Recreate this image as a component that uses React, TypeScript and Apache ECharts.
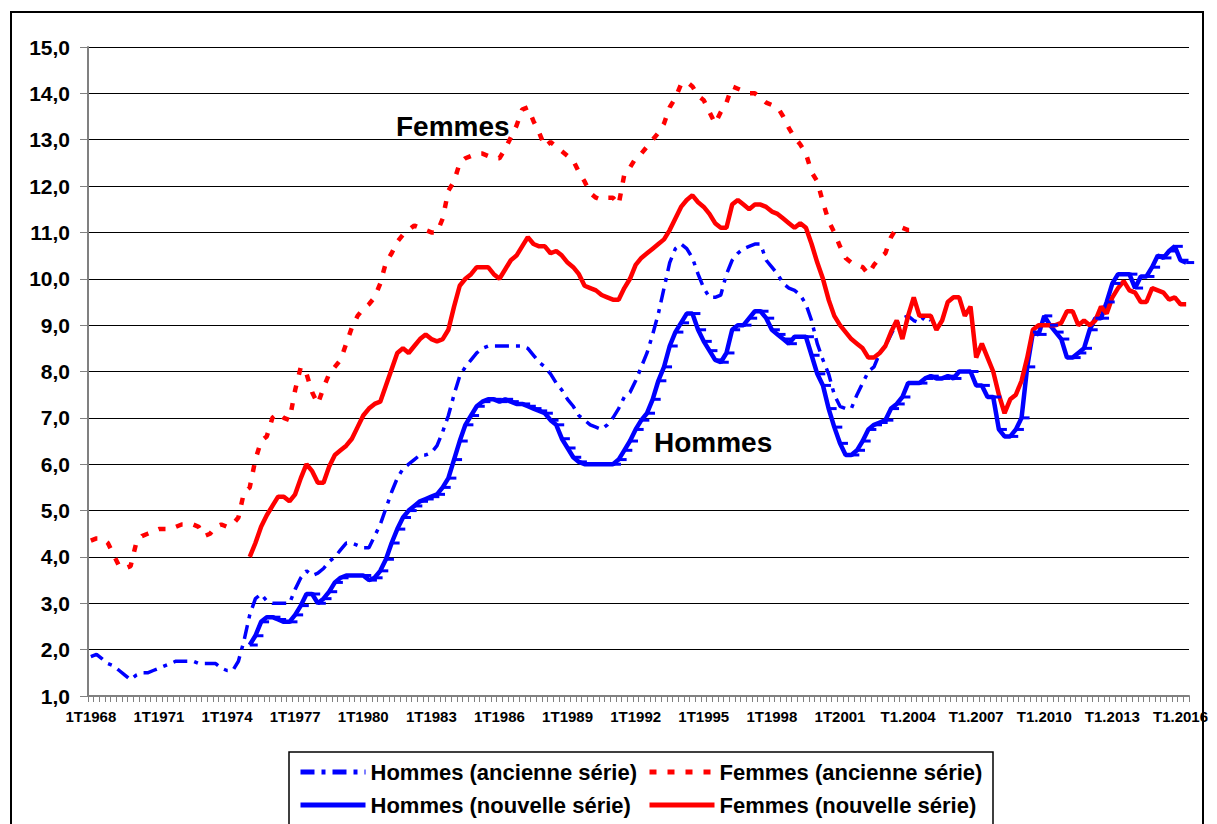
import React, { useEffect, useRef } from 'react';
import * as echarts from 'echarts';

const FONT = '"Liberation Sans", Arial, sans-serif';

// Quarterly axis: 1968 Q1 .. 2016 Q2
const FIRST_YEAR = 1968;
const LAST_YEAR = 2016;
const LAST_QUARTER = 2;
const NEW_SERIES_START_INDEX = 28; // 1975 Q1

const H_ANC = 'Hommes (ancienne série)';
const F_ANC = 'Femmes (ancienne série)';
const H_NOU = 'Hommes (nouvelle série)';
const F_NOU = 'Femmes (nouvelle série)';

// Hommes, ancienne série (from 1968 Q1)
const hommesAncienne = [
  1.85, 1.9, 1.8, 1.7, 1.65, 1.55, 1.45, 1.35, 1.45, 1.5,
  1.5, 1.55, 1.6, 1.65, 1.7, 1.75, 1.75, 1.75, 1.75, 1.7,
  1.7, 1.7, 1.7, 1.6, 1.55, 1.55, 1.75, 2.2, 2.75, 3.1,
  3.2, 3.05, 3.0, 3.0, 3.0, 3.0, 3.3, 3.55, 3.7, 3.6,
  3.65, 3.75, 3.9, 4.0, 4.15, 4.3, 4.3, 4.25, 4.2, 4.2,
  4.45, 4.7, 5.05, 5.4, 5.7, 5.9, 6.0, 6.1, 6.2, 6.2,
  6.25, 6.4, 6.7, 7.05, 7.5, 7.9, 8.1, 8.25, 8.4, 8.5,
  8.55, 8.55, 8.55, 8.55, 8.55, 8.55, 8.55, 8.5, 8.35, 8.2,
  8.1, 7.95, 7.75, 7.6, 7.4, 7.25, 7.05, 6.95, 6.85, 6.8,
  6.75, 6.85, 7.0, 7.2, 7.45, 7.55, 7.8, 8.1, 8.4, 8.8,
  9.25, 9.8, 10.35, 10.65, 10.75, 10.65, 10.45, 10.1, 9.8, 9.6,
  9.6, 9.65, 10.1, 10.4, 10.55, 10.65, 10.7, 10.75, 10.75, 10.4,
  10.25, 10.1, 9.9, 9.8, 9.75, 9.65, 9.45, 9.1, 8.6, 8.25,
  7.95, 7.5, 7.25, 7.2, 7.2, 7.5, 7.75, 8.0, 8.1, 8.4,
  8.55, 8.8, 9.05, 9.15, 9.2, 9.1, 9.05, 9.2, 9.1,
];

// Femmes, ancienne série (from 1968 Q1)
const femmesAncienne = [
  4.35, 4.4, 4.4, 4.3, 4.05, 3.8, 3.75, 3.8, 4.3, 4.45,
  4.5, 4.55, 4.6, 4.6, 4.6, 4.65, 4.7, 4.7, 4.7, 4.65,
  4.45, 4.5, 4.65, 4.7, 4.65, 4.7, 4.85, 5.4, 5.5, 6.1,
  6.5, 6.6, 7.0, 7.1, 7.0, 6.95, 7.6, 8.1, 7.95, 7.55,
  7.3, 7.65, 7.95, 8.1, 8.25, 8.6, 8.95, 9.2, 9.35, 9.45,
  9.6, 9.9, 10.35, 10.55, 10.8, 10.95, 11.05, 11.15, 11.1, 11.05,
  11.0, 11.0, 11.3, 11.9, 12.1, 12.5, 12.6, 12.65, 12.7, 12.7,
  12.65, 12.6, 12.6, 12.8, 13.05, 13.3, 13.65, 13.7, 13.4, 13.15,
  12.85, 12.95, 12.85, 12.75, 12.65, 12.55, 12.3, 12.1, 11.85, 11.75,
  11.7, 11.75, 11.75, 11.6, 12.25, 12.4, 12.6, 12.7, 12.85, 13.0,
  13.15, 13.35, 13.7, 13.9, 14.2, 14.25, 14.15, 13.95, 13.85, 13.6,
  13.35, 13.6, 13.8, 14.15, 14.1, 14.05, 14.0, 14.0, 13.9, 13.8,
  13.75, 13.7, 13.5, 13.25, 13.05, 12.9, 12.7, 12.3, 12.1, 11.65,
  11.25, 11.0, 10.7, 10.45, 10.35, 10.3, 10.25, 10.1, 10.3, 10.45,
  10.55, 10.9, 11.1, 11.1, 11.05, 11.05, 11.0,
];

// Hommes, nouvelle série (from 1975 Q1)
const hommesNouvelle = [
  2.1, 2.3,
  2.6, 2.7, 2.7, 2.65, 2.6, 2.6, 2.75, 2.95, 3.2, 3.2,
  3.0, 3.1, 3.25, 3.45, 3.55, 3.6, 3.6, 3.6, 3.6, 3.5,
  3.55, 3.7, 3.95, 4.3, 4.6, 4.85, 5.0, 5.1, 5.2, 5.25,
  5.3, 5.35, 5.5, 5.7, 6.1, 6.5, 6.85, 7.05, 7.25, 7.35,
  7.4, 7.4, 7.35, 7.4, 7.35, 7.3, 7.3, 7.25, 7.2, 7.15,
  7.1, 6.95, 6.85, 6.55, 6.35, 6.15, 6.05, 6.0, 6.0, 6.0,
  6.0, 6.0, 6.0, 6.1, 6.3, 6.5, 6.75, 6.95, 7.1, 7.4,
  7.8, 8.1, 8.55, 8.85, 9.05, 9.25, 9.25, 8.9, 8.65, 8.45,
  8.25, 8.2, 8.4, 8.9, 9.0, 9.0, 9.15, 9.3, 9.3, 9.15,
  8.9, 8.8, 8.7, 8.6, 8.75, 8.75, 8.75, 8.35, 7.95, 7.7,
  7.2, 6.8, 6.45, 6.2, 6.2, 6.3, 6.5, 6.75, 6.85, 6.9,
  6.95, 7.2, 7.3, 7.45, 7.75, 7.75, 7.75, 7.85, 7.9, 7.85,
  7.85, 7.9, 7.85, 8.0, 8.0, 8.0, 7.7, 7.7, 7.45, 7.45,
  6.75, 6.6, 6.6, 6.75, 7.0, 8.1, 8.85, 8.8, 9.2, 9.0,
  8.85, 8.7, 8.3, 8.3, 8.4, 8.5, 8.9, 9.15, 9.15, 9.5,
  9.9, 10.1, 10.1, 10.1, 9.8, 10.05, 10.05, 10.25, 10.5, 10.45,
  10.6, 10.7, 10.4, 10.35,
];

// Femmes, nouvelle série (from 1975 Q1)
const femmesNouvelle = [
  4.0, 4.3,
  4.65, 4.9, 5.1, 5.3, 5.3, 5.2, 5.35, 5.7, 6.0, 5.85,
  5.6, 5.6, 5.95, 6.2, 6.3, 6.4, 6.55, 6.8, 7.05, 7.2,
  7.3, 7.35, 7.7, 8.05, 8.4, 8.5, 8.4, 8.55, 8.7, 8.8,
  8.7, 8.65, 8.7, 8.9, 9.4, 9.85, 10.0, 10.1, 10.25, 10.25,
  10.25, 10.1, 10.0, 10.2, 10.4, 10.5, 10.7, 10.9, 10.75, 10.7,
  10.7, 10.55, 10.6, 10.5, 10.35, 10.25, 10.1, 9.85, 9.8, 9.75,
  9.65, 9.6, 9.55, 9.55, 9.8, 10.0, 10.3, 10.45, 10.55, 10.65,
  10.75, 10.85, 11.05, 11.3, 11.55, 11.7, 11.8, 11.65, 11.55, 11.4,
  11.2, 11.1, 11.1, 11.6, 11.7, 11.6, 11.5, 11.6, 11.6, 11.55,
  11.45, 11.4, 11.3, 11.2, 11.1, 11.2, 11.1, 10.75, 10.35, 10.0,
  9.55, 9.2, 9.0, 8.85, 8.7, 8.6, 8.5, 8.3, 8.3, 8.4,
  8.55, 8.85, 9.1, 8.7, 9.2, 9.6, 9.2, 9.2, 9.2, 8.9,
  9.1, 9.5, 9.6, 9.6, 9.2, 9.4, 8.3, 8.6, 8.3, 8.0,
  7.5, 7.1, 7.4, 7.5, 7.8, 8.3, 8.9, 9.0, 9.0, 9.0,
  9.0, 9.05, 9.3, 9.3, 9.0, 9.1, 9.0, 9.1, 9.4, 9.25,
  9.6, 9.8, 9.95, 9.75, 9.7, 9.5, 9.5, 9.8, 9.75, 9.7,
  9.55, 9.6, 9.45, 9.45,
];

const categories: string[] = [];
for (let y = FIRST_YEAR; y <= LAST_YEAR; y++) {
  for (let q = 1; q <= 4; q++) {
    if (y === LAST_YEAR && q > LAST_QUARTER) break;
    categories.push(y < 2004 ? `${q}T${y}` : `T${q}.${y}`);
  }
}

const pad = (arr: number[], start: number) =>
  categories.map((_, i) => (i >= start && i - start < arr.length ? arr[i - start] : null));

export default function App() {
  const ref = useRef<HTMLDivElement>(null);

  useEffect(() => {
    if (!ref.current) return;
    const chart = echarts.init(ref.current, undefined, { renderer: 'svg' });

    const legendText = {
      fontSize: 22,
      fontWeight: 'bold',
      fontFamily: FONT,
      color: '#000',
      lineHeight: 24,
    };

    const legendBase = {
      orient: 'vertical',
      top: 760,
      padding: 0,
      height: 70,
      itemWidth: 65,
      itemHeight: 6,
      itemGap: 9,
      selectedMode: false,
      textStyle: legendText,
      itemStyle: { opacity: 0 },
      lineStyle: { width: 5 },
    };

    chart.setOption({
      animation: false,
      backgroundColor: '#ffffff',
      textStyle: { fontFamily: FONT },
      grid: { left: 88, top: 47, width: 1101, height: 649 },
      xAxis: {
        type: 'category',
        data: categories,
        boundaryGap: true,
        axisLine: { lineStyle: { color: '#808080', width: 2 } },
        axisTick: { show: true, interval: 0, length: 6, lineStyle: { color: '#808080', width: 1 } },
        axisLabel: {
          interval: 11,
          margin: 13,
          fontSize: 15,
          fontWeight: 'bold',
          color: '#000',
          fontFamily: FONT,
        },
        splitLine: { show: false },
      },
      yAxis: {
        type: 'value',
        min: 1,
        max: 15,
        interval: 1,
        axisLine: { show: true, lineStyle: { color: '#808080', width: 2 } },
        axisTick: { show: true, length: 8, lineStyle: { color: '#808080', width: 1 } },
        axisLabel: {
          margin: 18,
          fontSize: 21,
          fontWeight: 'bold',
          color: '#000',
          fontFamily: FONT,
          formatter: (v: number) => v.toFixed(1).replace('.', ','),
        },
        splitLine: { show: true, lineStyle: { color: '#000', width: 1 } },
      },
      legend: [
        { ...legendBase, left: 298, data: [H_ANC, H_NOU] },
        { ...legendBase, left: 647, data: [F_ANC, F_NOU] },
      ],
      graphic: [
        {
          type: 'rect',
          silent: true,
          shape: { x: 11, y: 12, width: 1192, height: 830 },
          style: { fill: 'transparent', stroke: '#000', lineWidth: 2 },
        },
        {
          type: 'rect',
          silent: true,
          shape: { x: 289, y: 752, width: 704, height: 80 },
          style: { fill: 'transparent', stroke: '#000', lineWidth: 1.5 },
        },
        {
          type: 'text',
          x: 396,
          y: 126,
          style: {
            text: 'Femmes',
            font: `bold 28px ${FONT}`,
            fill: '#000',
            verticalAlign: 'middle',
          },
        },
        {
          type: 'text',
          x: 654,
          y: 442,
          style: {
            text: 'Hommes',
            font: `bold 28px ${FONT}`,
            fill: '#000',
            verticalAlign: 'middle',
          },
        },
      ],
      series: [
        {
          name: H_ANC,
          type: 'line',
          data: pad(hommesAncienne, 0),
          symbol: 'circle',
          showSymbol: false,
          itemStyle: { color: '#0000ff' },
          lineStyle: { color: '#0000ff', width: 3.5, type: [14, 7, 4, 7] },
        },
        {
          name: F_ANC,
          type: 'line',
          data: pad(femmesAncienne, 0),
          symbol: 'circle',
          showSymbol: false,
          itemStyle: { color: '#ff0000' },
          lineStyle: { color: '#ff0000', width: 4.5, type: [7, 11] },
        },
        {
          name: H_NOU,
          type: 'line',
          data: pad(hommesNouvelle, NEW_SERIES_START_INDEX),
          symbol: 'rect',
          symbolSize: [8, 3],
          symbolOffset: [4, 0],
          showSymbol: true,
          itemStyle: { color: '#0000ff' },
          lineStyle: { color: '#0000ff', width: 4.5 },
        },
        {
          name: F_NOU,
          type: 'line',
          data: pad(femmesNouvelle, NEW_SERIES_START_INDEX),
          symbol: 'circle',
          showSymbol: false,
          itemStyle: { color: '#ff0000' },
          lineStyle: { color: '#ff0000', width: 4.5 },
        },
      ],
    });

    return () => chart.dispose();
  }, []);

  return (
    <div
      ref={ref}
      style={{ position: 'fixed', left: 0, top: 0, width: 1217, height: 824, background: '#fff' }}
    />
  );
}
